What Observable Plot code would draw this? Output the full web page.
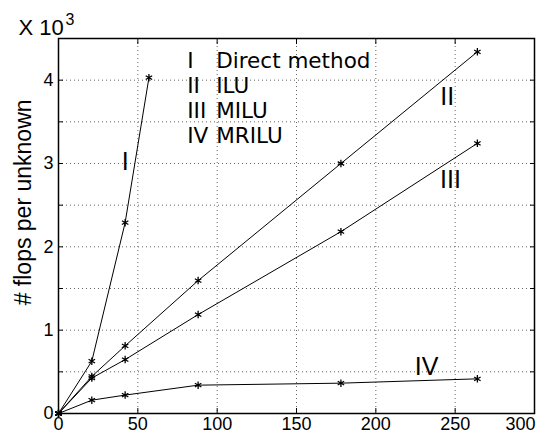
<!DOCTYPE html>
<html><head><meta charset="utf-8">
<script src="https://cdn.jsdelivr.net/npm/d3@7"></script>
<script src="https://cdn.jsdelivr.net/npm/@observablehq/plot@0.6"></script>
<style>body{margin:0;background:#fff}</style>
</head><body><div id="chart"></div>
<script>
const gridN = [0, 21, 42, 88, 178, 264];
const directN = [0, 21, 42, 57];
const directFlops = [0, 628, 2290, 4030];
const iluFlops = [0, 445, 812, 1595, 3000, 4340];
const miluFlops = [0, 425, 647, 1187, 2182, 3242];
const mriluFlops = [0, 160, 221, 340, 364, 416];
const legendNumerals = ["I", "II", "III", "IV"];
const legendNames = ["Direct method", "ILU", "MILU", "MRILU"];
const curveLabels = ["I", "II", "III", "IV"];
const curveLabelX = [42, 245, 247, 232];
const curveLabelY = [3018, 3797, 2802, 554];
const xTicks = [0, 50, 100, 150, 200, 250, 300];
const xTicksInner = [0, 50, 100, 150, 200, 250];
const xTicksLast = [300];
const yTicks = [0, 1000, 2000, 3000, 4000];
const yGrid = [0, 500, 1000, 1500, 2000, 2500, 3000, 3500, 4000, 4500];
const yLabel = "# flops per unknown";

const rows = [];
directN.forEach((n, i) => rows.push({method: "I", n, flops: directFlops[i]}));
gridN.forEach((n, i) => rows.push({method: "II", n, flops: iluFlops[i]}));
gridN.forEach((n, i) => rows.push({method: "III", n, flops: miluFlops[i]}));
gridN.forEach((n, i) => rows.push({method: "IV", n, flops: mriluFlops[i]}));
const labels = curveLabels.map((t, i) => ({t, x: curveLabelX[i], y: curveLabelY[i]}));

const font = "'Liberation Sans', Arial, Helvetica, sans-serif";
const legendFont = "'DejaVu Sans', 'Liberation Sans', sans-serif";
const gridStyle = {stroke: "#666", strokeOpacity: 1, strokeDasharray: "1,3", strokeWidth: 1};

const chart = Plot.plot({
  width: 547, height: 439,
  marginLeft: 58, marginTop: 38, marginRight: 13, marginBottom: 26,
  x: {domain: [0, 300]},
  y: {domain: [0, 4500]},
  style: {fontFamily: font, background: "white", color: "black"},
  marks: [
    Plot.gridX(xTicks, gridStyle),
    Plot.gridY(yGrid, gridStyle),
    Plot.axisX(xTicksInner, {tickSize: 0, tickPadding: 4, fontSize: 18, label: null}),
    Plot.axisX(xTicksLast, {tickSize: 0, tickPadding: 4, fontSize: 18, label: null, dx: -14}),
    Plot.axisY(yTicks, {tickSize: 0, tickPadding: 5, fontSize: 18, label: null, tickFormat: d => d / 1000}),
    Plot.axisX(xTicks, {anchor: "bottom", tickSize: -5, tickFormat: () => "", label: null}),
    Plot.axisX(xTicks, {anchor: "top", tickSize: -5, tickFormat: () => "", label: null}),
    Plot.axisY(yGrid, {anchor: "left", tickSize: -5, tickFormat: () => "", label: null}),
    Plot.axisY(yGrid, {anchor: "right", tickSize: -5, tickFormat: () => "", label: null}),
    Plot.frame({stroke: "black", strokeWidth: 1.5}),
    Plot.line(rows, {x: "n", y: "flops", z: "method", stroke: "black", strokeWidth: 1}),
    Plot.dot(rows, {x: "n", y: "flops", symbol: "asterisk", r: 3.5, stroke: "black", strokeWidth: 1.3}),
    Plot.text(labels, {x: "x", y: "y", text: "t", fontSize: 25, fill: "black", textAnchor: "middle", lineAnchor: "middle"}),
    Plot.text([legendNumerals.join("\n")], {frameAnchor: "top-left", dx: 128.7, dy: 12, lineAnchor: "top", lineHeight: 25 / 21.5, fontSize: 21.5, fontFamily: legendFont, textAnchor: "start", fill: "black"}),
    Plot.text([legendNames.join("\n")], {frameAnchor: "top-left", dx: 157.7, dy: 12, lineAnchor: "top", lineHeight: 25 / 21.5, fontSize: 21.5, fontFamily: legendFont, textAnchor: "start", fill: "black"}),
    Plot.text([yLabel], {frameAnchor: "left", dx: -35, dy: -23.6, rotate: -90, fontSize: 23, textAnchor: "middle", lineAnchor: "middle", fill: "black"}),
    Plot.text(["X 10"], {frameAnchor: "top-left", dx: -40, dy: -11, textAnchor: "start", lineAnchor: "middle", fontSize: 22, fill: "black"}),
    Plot.text(["3"], {frameAnchor: "top-left", dx: 7, dy: -19, textAnchor: "start", lineAnchor: "middle", fontSize: 16, fill: "black"})
  ]
});
document.getElementById("chart").appendChild(chart);
</script>
</body></html>
